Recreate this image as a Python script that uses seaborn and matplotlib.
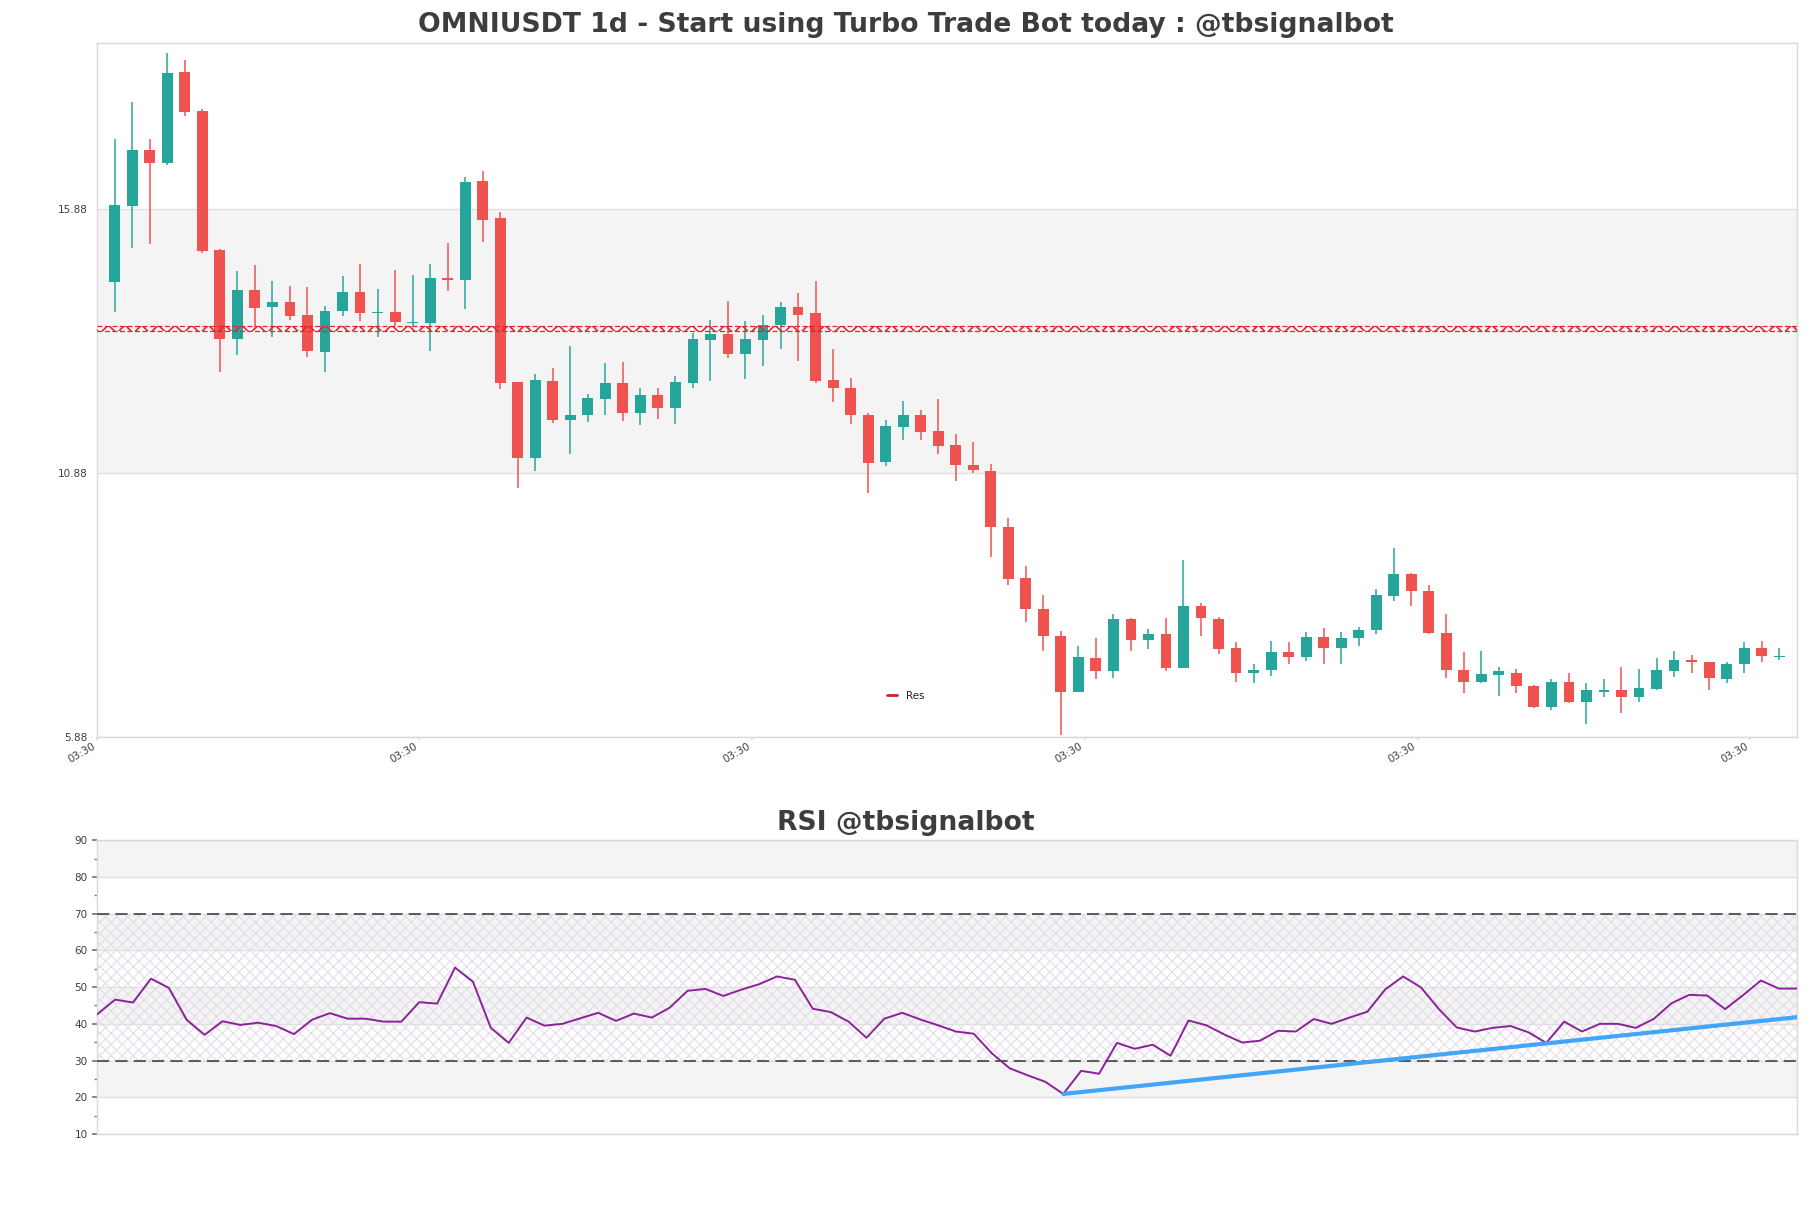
"""
Candlestick + RSI panel for OMNIUSDT daily, signal bot style.
"""

import matplotlib
matplotlib.use('Agg')
import matplotlib.pyplot as plt
import numpy as np
import pandas as pd
import seaborn as sns
from matplotlib.lines import Line2D


TITLE = 'OMNIUSDT 1d - Start using Turbo Trade Bot today : @tbsignalbot'
RSI_TITLE = 'RSI @tbsignalbot'

# OHLC, one row per daily candle
opens = [14.49, 15.93, 16.98, 16.74, 18.46, 17.72, 15.09, 13.41, 14.33, 14.02,
         14.12, 13.86, 13.17, 13.94, 14.30, 13.90, 13.93, 13.71, 13.71, 14.56,
         14.53, 16.40, 15.70, 12.59, 11.16, 12.61, 11.88, 11.97, 12.28, 12.57,
         12.01, 12.36, 12.10, 12.58, 13.40, 13.50, 13.13, 13.39, 13.68, 14.01,
         13.90, 12.63, 12.49, 11.98, 11.08, 11.74, 11.98, 11.68, 11.40, 11.02,
         10.92, 9.86, 8.88, 8.31, 7.80, 6.74, 7.38, 7.12, 8.12, 7.71,
         7.82, 7.18, 8.35, 8.12, 7.57, 7.10, 7.14, 7.48, 7.39, 7.78,
         7.56, 7.76, 7.90, 8.54, 8.97, 8.65, 7.85, 7.15, 6.93, 7.06,
         7.10, 6.85, 6.44, 6.93, 6.55, 6.74, 6.76, 6.63, 6.78, 7.12,
         7.33, 7.29, 6.97, 7.26, 7.57, 7.39]
highs = [17.19, 17.89, 17.19, 18.82, 18.69, 17.76, 15.12, 14.69, 14.81, 14.51,
         14.41, 14.39, 14.04, 14.60, 14.83, 14.35, 14.72, 14.62, 14.83, 15.23,
         16.48, 16.59, 15.81, 12.59, 12.74, 12.87, 13.27, 12.38, 12.95, 12.97,
         12.49, 12.49, 12.72, 13.52, 13.78, 14.14, 13.75, 13.86, 14.11, 14.28,
         14.50, 13.22, 12.67, 12.02, 11.87, 12.23, 12.06, 12.27, 11.61, 11.47,
         11.04, 10.02, 9.12, 8.57, 7.88, 7.61, 7.76, 8.20, 8.14, 7.93,
         8.14, 9.22, 8.41, 8.16, 7.67, 7.27, 7.70, 7.67, 7.87, 7.95,
         7.86, 7.97, 8.69, 9.45, 8.99, 8.75, 8.20, 7.48, 7.50, 7.21,
         7.17, 6.87, 6.98, 7.10, 6.91, 6.98, 7.20, 7.16, 7.38, 7.50,
         7.44, 7.30, 7.29, 7.67, 7.69, 7.57]
lows = [13.92, 15.13, 15.21, 16.71, 17.64, 15.03, 12.79, 13.10, 13.64, 13.45,
        13.77, 13.07, 12.79, 13.84, 13.75, 13.44, 13.65, 13.64, 13.18, 14.32,
        13.98, 15.25, 12.46, 10.60, 10.91, 11.82, 11.23, 11.84, 11.97, 11.86,
        11.78, 11.90, 11.80, 12.48, 12.62, 13.05, 12.65, 12.90, 13.22, 12.99,
        12.58, 12.22, 11.80, 10.49, 11.00, 11.50, 11.50, 11.23, 10.72, 10.87,
        9.28, 8.75, 8.05, 7.50, 5.92, 6.73, 6.97, 6.99, 7.50, 7.54,
        7.12, 7.18, 7.79, 7.45, 6.93, 6.90, 7.03, 7.27, 7.31, 7.26,
        7.27, 7.61, 7.82, 8.45, 8.35, 7.82, 6.99, 6.72, 6.91, 6.65,
        6.72, 6.42, 6.40, 6.52, 6.12, 6.63, 6.33, 6.55, 6.76, 7.01,
        7.09, 6.76, 6.91, 7.09, 7.29, 7.33]
closes = [15.94, 16.98, 16.74, 18.44, 17.71, 15.08, 13.41, 14.33, 14.00, 14.12,
          13.85, 13.18, 13.95, 14.30, 13.90, 13.93, 13.73, 13.73, 14.56, 14.53,
          16.38, 15.67, 12.57, 11.16, 12.63, 11.88, 11.98, 12.29, 12.57, 12.01,
          12.36, 12.10, 12.59, 13.42, 13.50, 13.13, 13.42, 13.67, 14.01, 13.87,
          12.62, 12.48, 11.97, 11.06, 11.76, 11.98, 11.65, 11.39, 11.03, 10.93,
          9.85, 8.87, 8.30, 7.79, 6.73, 7.40, 7.12, 8.12, 7.71, 7.82,
          7.18, 8.35, 8.13, 7.54, 7.10, 7.15, 7.48, 7.39, 7.78, 7.56,
          7.76, 7.91, 8.56, 8.97, 8.64, 7.84, 7.14, 6.93, 7.07, 7.12,
          6.84, 6.44, 6.93, 6.55, 6.76, 6.76, 6.63, 6.81, 7.14, 7.33,
          7.30, 6.99, 7.27, 7.57, 7.41, 7.40]

rsi_values = [42.6, 46.6, 45.8, 52.3, 49.8, 41.1, 37.0, 40.7, 39.7, 40.3,
              39.4, 37.2, 41.1, 42.9, 41.4, 41.4, 40.6, 40.6, 45.9, 45.5,
              55.3, 51.5, 38.9, 34.8, 41.7, 39.5, 40.0, 41.5, 43.0, 40.8,
              42.8, 41.7, 44.4, 49.0, 49.5, 47.6, 49.3, 50.8, 52.9, 52.0,
              44.1, 43.2, 40.6, 36.2, 41.4, 43.0, 41.2, 39.6, 37.9, 37.3,
              32.0, 27.9, 26.0, 24.2, 20.9, 27.2, 26.4, 34.8, 33.2, 34.3,
              31.3, 40.9, 39.6, 37.1, 34.9, 35.4, 38.1, 37.9, 41.3, 40.0,
              41.7, 43.3, 49.4, 52.9, 49.9, 44.0, 39.0, 37.9, 38.9, 39.4,
              37.7, 34.8, 40.6, 37.9, 40.0, 40.0, 38.9, 41.3, 45.6, 47.9,
              47.7, 44.0, 47.8, 51.8, 49.6, 49.6]

resistance = 13.61
trend_idx = [54, 95]
trend_rsi = [20.9, 41.8]

price_ticks = [5.88, 10.88, 15.88]
rsi_ticks = [10, 20, 30, 40, 50, 60, 70, 80, 90]
rsi_minor_ticks = [15, 25, 35, 45, 55, 65, 75, 85]
rsi_levels = [30, 70]
xtick_idx = [-1, 17.36, 36.36, 55.36, 74.36, 93.36]
xtick_labels = ['03:30'] * 6

GREEN = '#26a69a'
RED = '#ef5350'
RES_COLOR = '#e3262e'
PURPLE = '#8a2397'
BLUE = '#42a5f5'
BAND = '#f4f4f4'
GRID = '#e0e0e0'
SPINE = '#d9d9d9'
TEXT = '#3d3d3d'
HATCH = '#e3dde9'


def shade_bands(ax, edges):
    # every other band between gridlines gets a light grey fill
    for i in range(1, len(edges) - 1, 2):
        ax.axhspan(edges[i], edges[i + 1], color=BAND, lw=0, zorder=0)


def style_axis(ax):
    for spine in ax.spines.values():
        spine.set_color(SPINE)
        spine.set_linewidth(1)
    ax.yaxis.grid(True, color=GRID, lw=1, zorder=0.5)
    ax.xaxis.grid(False)
    ax.set_axisbelow(True)
    ax.set_xlabel('')
    ax.set_ylabel('')


def main():
    sns.set_theme(style='white')
    plt.rcParams['font.family'] = ['DejaVu Sans']

    df = pd.DataFrame({'open': opens, 'high': highs, 'low': lows, 'close': closes})
    n = len(df)
    colors = np.where(df['close'] >= df['open'], GREEN, RED)

    fig = plt.figure(figsize=(18.11, 12.08), dpi=100)
    ax = fig.add_axes([0.0537, 0.3899, 0.9384, 0.5743])
    ax_rsi = fig.add_axes([0.0537, 0.0613, 0.9384, 0.2431])

    # --- price panel ---
    ax.set_xlim(-1, n)
    ymax = df['high'].max() * 1.01
    ax.set_ylim(price_ticks[0], ymax)
    shade_bands(ax, price_ticks + [ymax])

    ax.vlines(df.index, df['low'], df['high'], colors=colors, lw=1.1, zorder=2)
    body_low = df[['open', 'close']].min(axis=1)
    body_h = (df['close'] - df['open']).abs().clip(lower=0.025)
    ax.bar(df.index, body_h, bottom=body_low, width=0.62, color=colors,
           lw=0, zorder=3)

    # resistance: thin hatched band with dashed edges
    with plt.rc_context({'hatch.linewidth': 1.2}):
        ax.axhspan(resistance - 0.045, resistance + 0.045, fill=False,
                   edgecolor=RES_COLOR, hatch='xx', lw=0, zorder=4)
    ax.axhline(resistance + 0.045, color=RES_COLOR, ls=(0, (4, 2)), lw=0.9, zorder=4)
    ax.axhline(resistance - 0.045, color=RES_COLOR, ls=(0, (4, 2)), lw=0.9, zorder=4)

    style_axis(ax)
    ax.set_yticks(price_ticks, [f'{t:.2f}' for t in price_ticks])
    ax.tick_params(axis='y', length=0, pad=7, labelsize=7.5, labelcolor=TEXT)
    ax.set_xticks(xtick_idx, xtick_labels, rotation=30, ha='right')
    ax.tick_params(axis='x', length=2, pad=1, labelsize=7.5, labelcolor=TEXT,
                   color=SPINE, bottom=True)

    ax.legend(handles=[Line2D([], [], color='#d0202a', lw=2)], labels=['Res'],
              loc='center', bbox_to_anchor=(0.5, 0.4241),
              bbox_transform=fig.transFigure, frameon=False, fontsize=7.5,
              handlelength=1.0, handletextpad=0.8, labelcolor='#222222')

    # --- RSI panel ---
    rsi_df = pd.DataFrame({'idx': np.arange(len(rsi_values)), 'rsi': rsi_values})
    trend_df = pd.DataFrame({'idx': trend_idx, 'rsi': trend_rsi})

    ax_rsi.set_xlim(0, len(rsi_values) - 1)
    ax_rsi.set_ylim(rsi_ticks[0], rsi_ticks[-1])
    shade_bands(ax_rsi, rsi_ticks)
    with plt.rc_context({'hatch.linewidth': 0.8}):
        ax_rsi.axhspan(rsi_levels[0], rsi_levels[1], fill=False, edgecolor=HATCH,
                       hatch='xxx', lw=0, zorder=1)
    for lvl in rsi_levels:
        ax_rsi.axhline(lvl, color='#333333', lw=1.1, ls=(0, (8, 4)), zorder=3)

    sns.lineplot(data=rsi_df, x='idx', y='rsi', ax=ax_rsi, color=PURPLE,
                 lw=1.4, zorder=4)
    sns.lineplot(data=trend_df, x='idx', y='rsi', ax=ax_rsi, color=BLUE,
                 lw=3, zorder=5)

    style_axis(ax_rsi)
    ax_rsi.set_yticks(rsi_ticks, [str(t) for t in rsi_ticks])
    ax_rsi.set_yticks(rsi_minor_ticks, minor=True)
    ax_rsi.tick_params(axis='y', which='major', length=3.5, pad=3.5,
                       labelsize=7.5, labelcolor=TEXT, color='#777777', left=True)
    ax_rsi.tick_params(axis='y', which='minor', length=2.5, color='#777777',
                       left=True)
    ax_rsi.set_xticks([])

    fig.text(0.5, 0.9733, TITLE, ha='center', va='baseline', fontsize=19.2,
             fontweight='bold', color=TEXT)
    fig.text(0.5, 0.3129, RSI_TITLE, ha='center', va='baseline', fontsize=19.2,
             fontweight='bold', color=TEXT)

    fig.savefig('out.png', dpi=100)
    plt.close(fig)


if __name__ == "__main__":
    main()
